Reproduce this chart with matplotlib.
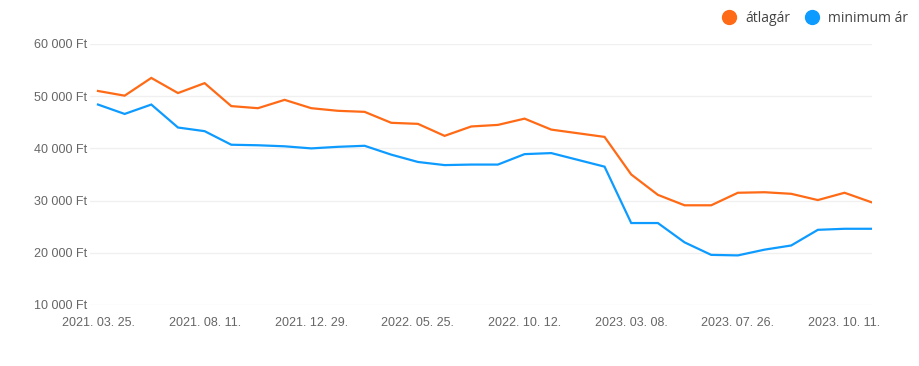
import numpy as np
import matplotlib
matplotlib.use("Agg")
import matplotlib.pyplot as plt
from matplotlib.lines import Line2D
from matplotlib.ticker import FuncFormatter

# values (Ft)
atlagar = [51000, 50100, 53500, 50600, 52500, 48100, 47700, 49300, 47700, 47200,
           47000, 44900, 44700, 42400, 44200, 44500, 45700, 43600, 42900, 42200,
           35000, 31100, 29100, 29100, 31500, 31600, 31300, 30100, 31500, 29700]
minimum_ar = [48400, 46600, 48400, 44000, 43300, 40700, 40600, 40400, 40000, 40300,
              40500, 38800, 37400, 36800, 36900, 36900, 38900, 39100, 37800, 36500,
              25700, 25700, 22000, 19600, 19500, 20600, 21400, 24400, 24600, 24600]
tick_labels = ["2021. 03. 25.", "2021. 08. 11.", "2021. 12. 29.", "2022. 05. 25.",
               "2022. 10. 12.", "2023. 03. 08.", "2023. 07. 26.", "2023. 10. 11."]
y_ticks = [10000, 20000, 30000, 40000, 50000, 60000]

ORANGE = "#ff6a16"
BLUE = "#0e9bff"

plt.rcParams["font.family"] = ["Liberation Sans", "DejaVu Sans"]

x = np.arange(len(atlagar))

fig = plt.figure(figsize=(9.2, 3.66), dpi=100)
ax = fig.add_axes([0.0978, 0.1667, 0.850, 0.7131])

ax.plot(x, atlagar, color=ORANGE, lw=1.6, solid_joinstyle="miter")
ax.plot(x, minimum_ar, color=BLUE, lw=1.6, solid_joinstyle="miter")

ax.set_xlim(-0.3, 29.03)
ax.set_ylim(10000, 60000)
ax.set_yticks(y_ticks)
ax.yaxis.set_major_formatter(FuncFormatter(lambda v, p: f"{int(v):,} Ft".replace(",", " ")))
ax.set_xticks(x[::4])
ax.set_xticklabels(tick_labels)

for sp in ax.spines.values():
    sp.set_visible(False)
ax.grid(axis="y", color="#f0f0f0", lw=1)
ax.set_axisbelow(True)
ax.tick_params(length=0, labelsize=9, labelcolor="#666666")
ax.tick_params(axis="y", pad=2)
ax.tick_params(axis="x", pad=9)

handles = [Line2D([], [], marker="o", ls="none", color=ORANGE, markersize=10),
           Line2D([], [], marker="o", ls="none", color=BLUE, markersize=10)]
fig.legend(handles, ["átlagár", "minimum ár"], loc="upper right",
           bbox_to_anchor=(1.001, 1.005), ncol=2, frameon=False,
           handletextpad=0.15, columnspacing=0.6,
           prop={"family": "Open Sans", "size": 10}, labelcolor="#444444")

fig.savefig("out.png", dpi=100)
